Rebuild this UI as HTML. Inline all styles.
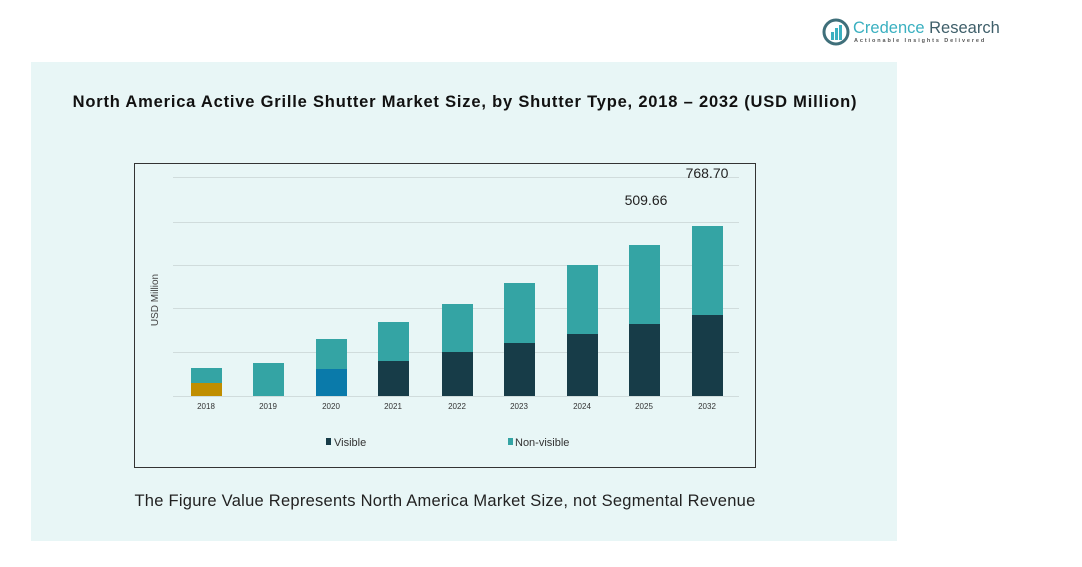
<!DOCTYPE html>
<html><head><meta charset="utf-8"><style>
body{margin:0;width:1082px;height:567px;background:#fff;position:relative;overflow:hidden;font-family:"Liberation Sans",sans-serif}
.a{position:absolute}
</style></head><body>
<div class="a" style="left:31px;top:62px;width:866px;height:479px;background:#e8f6f6"></div>
<div class="a" style="left:0;width:930px;top:93px;text-align:center;font-weight:bold;font-size:16.5px;letter-spacing:0.8px;color:#111">North America Active Grille Shutter Market Size, by Shutter Type, 2018 – 2032 (USD Million)</div>
<svg class="a" style="left:822px;top:18px" width="30" height="30" viewBox="0 0 30 30"><circle cx="14" cy="14" r="12" fill="none" stroke="#3f6f7a" stroke-width="3"/><rect x="9" y="14" width="3" height="8" fill="#3ab0c0"/><rect x="13" y="10" width="3" height="12" fill="#3ab0c0"/><rect x="17" y="7" width="3" height="15" fill="#3ab0c0"/></svg>
<div class="a" style="left:853px;top:19px;font-size:16.5px;color:#3ab0c0">Credence <span style="color:#3f5f6a">Research</span></div>
<div class="a" style="left:854px;top:38px;font-size:5.5px;letter-spacing:1.9px;color:#555;font-weight:bold">Actionable Insights Delivered</div>
<div class="a" style="left:134px;top:163px;width:620px;height:303px;border:1px solid #333"></div>
<svg class="a" style="left:0;top:0" width="1082" height="567">
<g stroke="#d0dcdc" stroke-width="1">
<line x1="173" x2="739" y1="177.5" y2="177.5"/><line x1="173" x2="739" y1="222.5" y2="222.5"/><line x1="173" x2="739" y1="265.5" y2="265.5"/><line x1="173" x2="739" y1="308.5" y2="308.5"/><line x1="173" x2="739" y1="352.5" y2="352.5"/><line x1="173" x2="739" y1="396.5" y2="396.5"/></g>
<g fill="#34a4a4">
<rect x="191" y="368" width="31" height="15"/><rect x="253" y="363" width="31" height="33"/><rect x="316" y="339" width="31" height="30"/><rect x="378" y="322" width="31" height="39"/><rect x="442" y="304" width="31" height="48"/><rect x="504" y="283" width="31" height="60"/><rect x="567" y="265" width="31" height="69"/><rect x="629" y="245" width="31" height="79"/><rect x="692" y="226" width="31" height="89"/></g>
<rect x="191" y="383" width="31" height="13" fill="#c08e00"/>
<rect x="316" y="369" width="31" height="27" fill="#0a7aaa"/>
<g fill="#173c48">
<rect x="378" y="361" width="31" height="35"/><rect x="442" y="352" width="31" height="44"/><rect x="504" y="343" width="31" height="53"/><rect x="567" y="334" width="31" height="62"/><rect x="629" y="324" width="31" height="72"/><rect x="692" y="315" width="31" height="81"/></g>
<g font-size="8" fill="#333" text-anchor="middle" font-family="Liberation Sans">
<text x="206" y="409">2018</text><text x="268" y="409">2019</text><text x="331" y="409">2020</text><text x="393" y="409">2021</text><text x="457" y="409">2022</text><text x="519" y="409">2023</text><text x="582" y="409">2024</text><text x="644" y="409">2025</text><text x="707" y="409">2032</text></g>
<text x="646" y="205" font-size="14" text-anchor="middle" fill="#222">509.66</text>
<text x="707" y="178" font-size="14" text-anchor="middle" fill="#222">768.70</text>
<text transform="translate(158,300) rotate(-90)" font-size="10" fill="#444" text-anchor="middle">USD Million</text>
<rect x="326" y="438" width="5" height="7" fill="#173c48"/><text x="334" y="446" font-size="11" fill="#333">Visible</text>
<rect x="508" y="438" width="5" height="7" fill="#34a4a4"/><text x="515" y="446" font-size="11" fill="#333">Non-visible</text>
</svg>
<div class="a" style="left:0;width:890px;top:492px;text-align:center;font-size:16.5px;letter-spacing:0.26px;color:#222">The Figure Value Represents North America Market Size, not Segmental Revenue</div>
</body></html>
